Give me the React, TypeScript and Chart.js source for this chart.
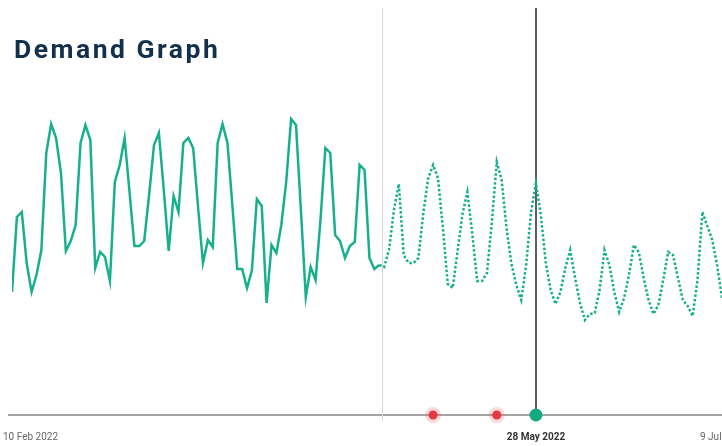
import React, { useEffect, useRef } from "react";
import { Chart, registerables } from "chart.js";

Chart.register(...registerables);

const chartTitle = "Demand Graph";

// Daily demand, day 0 = 10 Feb 2022
const actualDemand = [
  123, 198, 203, 152, 123, 140, 165, 262, 291, 277,
  242, 164, 174, 190, 272, 290, 275, 147, 163, 158,
  134, 233, 250, 277, 223, 169, 169, 174, 220, 270,
  282, 225, 164, 219, 203, 272, 277, 267, 208, 152,
  175, 168, 272, 291, 272, 210, 146, 146, 127, 145,
  216, 209, 112, 170, 162, 190, 233, 296, 290, 205,
  118, 148, 135, 195, 267, 262, 180, 174, 157, 169,
  173, 250, 245, 157, 146, 150,
];

// Forecast, starting on the last actual day (day 75)
const forecastStartDay = 75;
const forecastDemand = [
  150, 148, 165, 205, 231, 160, 152, 152, 157, 202,
  237, 250, 237, 187, 131, 127, 164, 201, 223, 181,
  134, 134, 142, 193, 253, 235, 187, 151, 130, 115,
  150, 203, 232, 200, 153, 125, 111, 123, 147, 165,
  137, 112, 95, 101, 102, 125, 165, 150, 123, 103,
  117, 140, 170, 163, 137, 115, 101, 110, 135, 163,
  160, 137, 115, 109, 99, 135, 203, 189, 175, 150,
  117, 95,
];

const todayDay = 75.5;
const alertDays = [86, 99];
const selectedDay = 107;
const tickDays = [0, 107, 149];
const tickLabels = ["10 Feb 2022", "28 May 2022", "9 Jul 2022"];

const TEAL = "#17b08c";

export default function App() {
  const ref = useRef<HTMLCanvasElement>(null);

  useEffect(() => {
    if (!ref.current) return;
    const actualPts = actualDemand.map((y, i) => ({ x: i, y }));
    const forecastPts = forecastDemand.map((y, i) => ({ x: forecastStartDay + i, y }));

    const overlay = {
      id: "overlay",
      beforeDatasetsDraw(chart: any) {
        const { ctx, chartArea, scales } = chart;
        const xs = scales.x;
        ctx.save();
        // axis line
        ctx.strokeStyle = "#a4a4a4";
        ctx.lineWidth = 2;
        ctx.beginPath();
        ctx.moveTo(chartArea.left - 4, chartArea.bottom);
        ctx.lineTo(chartArea.right, chartArea.bottom);
        ctx.stroke();
        // today line
        const tx = Math.round(xs.getPixelForValue(todayDay)) + 0.5;
        ctx.strokeStyle = "#d6d6d6";
        ctx.lineWidth = 1;
        ctx.beginPath();
        ctx.moveTo(tx, 8);
        ctx.lineTo(tx, chartArea.bottom + 6);
        ctx.stroke();
        // selected date line
        const sx = Math.round(xs.getPixelForValue(selectedDay));
        ctx.strokeStyle = "#5e5e5e";
        ctx.lineWidth = 2;
        ctx.beginPath();
        ctx.moveTo(sx, 8);
        ctx.lineTo(sx, chartArea.bottom);
        ctx.stroke();
        ctx.restore();
      },
      afterDraw(chart: any) {
        const { ctx, chartArea, scales } = chart;
        const xs = scales.x;
        ctx.save();
        ctx.textBaseline = "middle";
        tickLabels.forEach((lab, i) => {
          const px = xs.getPixelForValue(tickDays[i]);
          if (i === 0) {
            ctx.font = "10px Roboto";
            ctx.fillStyle = "#666666";
            ctx.textAlign = "left";
            ctx.fillText(lab, chartArea.left - 9, chartArea.bottom + 22);
          } else if (tickDays[i] === selectedDay) {
            ctx.font = "bold 10px Roboto";
            ctx.fillStyle = "#333333";
            ctx.textAlign = "center";
            ctx.fillText(lab, px, chartArea.bottom + 22);
          } else {
            ctx.font = "10px Roboto";
            ctx.fillStyle = "#666666";
            ctx.textAlign = "left";
            ctx.fillText(lab, Math.min(px - 24, chartArea.right - 22), chartArea.bottom + 22);
          }
        });
        ctx.restore();
      },
    };

    const chart = new Chart(ref.current, {
      type: "line",
      data: {
        datasets: [
          {
            label: "Actual",
            data: actualPts,
            borderColor: TEAL,
            borderWidth: 2.5,
            pointRadius: 0,
            pointHoverRadius: 0,
            tension: 0,
          },
          {
            label: "Forecast",
            data: forecastPts,
            borderColor: TEAL,
            borderWidth: 2.5,
            borderDash: [2.5, 2],
            pointRadius: 0,
            pointHoverRadius: 0,
            tension: 0,
          },
          {
            label: "Alert halo",
            data: alertDays.map((d) => ({ x: d, y: 0 })),
            showLine: false,
            pointRadius: 8,
            pointBorderWidth: 0,
            pointBackgroundColor: "rgba(240, 80, 90, 0.22)",
            clip: false as any,
          },
          {
            label: "Alerts",
            data: alertDays.map((d) => ({ x: d, y: 0 })),
            showLine: false,
            pointRadius: 4.5,
            pointBorderWidth: 0,
            pointBackgroundColor: "#e3303b",
            clip: false as any,
          },
          {
            label: "Selected",
            data: [{ x: selectedDay, y: 0 }],
            showLine: false,
            pointRadius: 6.5,
            pointBorderWidth: 0,
            pointBackgroundColor: "#14a97f",
            clip: false as any,
          },
        ],
      },
      options: {
        responsive: false,
        animation: false,
        devicePixelRatio: 1,
        layout: { autoPadding: false, padding: { left: 12, right: 0, top: 15, bottom: 31 } },
        plugins: {
          legend: { display: false },
          tooltip: { enabled: false },
          title: { display: false },
        },
        scales: {
          x: { type: "linear", display: false, min: 0, max: 145 },
          y: { display: false, min: 0, max: 400 },
        },
      },
      plugins: [overlay],
    });
    return () => chart.destroy();
  }, []);

  return (
    <div
      style={{
        position: "fixed",
        left: 0,
        top: 0,
        width: 722,
        height: 446,
        background: "#ffffff",
        overflow: "hidden",
      }}
    >
      <canvas ref={ref} width={722} height={446} style={{ display: "block" }} />
      <div
        style={{
          position: "absolute",
          left: 14,
          top: 36,
          font: "bold 26.5px Roboto",
          lineHeight: "26px",
          letterSpacing: "2.5px",
          color: "#12304c",
          whiteSpace: "nowrap",
        }}
      >
        {chartTitle}
      </div>
    </div>
  );
}
